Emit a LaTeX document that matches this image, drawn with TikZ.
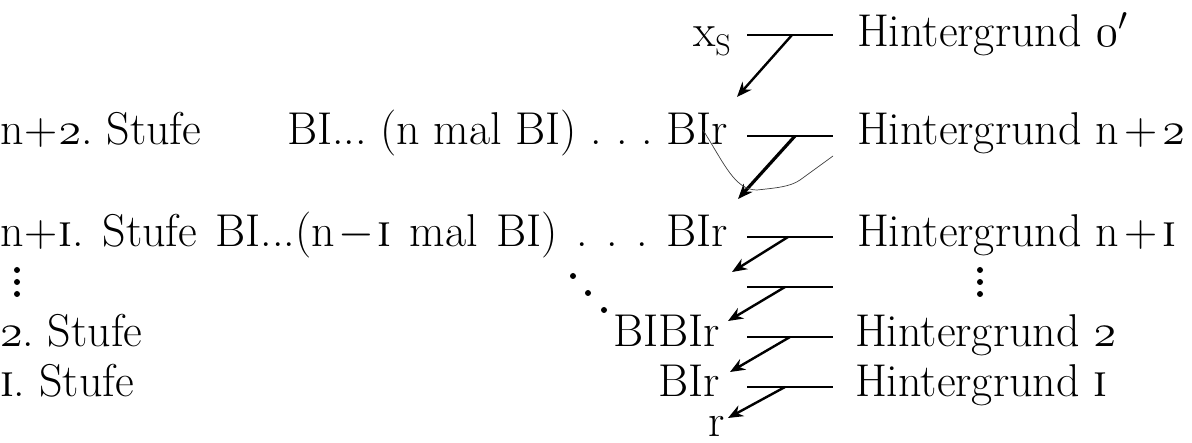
\RequirePackage{fix-cm}
\documentclass[tikz,border=0pt]{standalone}
\usetikzlibrary{arrows.meta}
\newcommand\bigfont{\fontsize{46}{54}\selectfont\frenchspacing}
\newcommand\osn[1]{\legacyoldstylenums{#1}}
\newcommand\one{\textsc{i}}
\newcommand\subS{\raisebox{-9pt}{\fontsize{30}{32}\selectfont S}}
\begin{document}
\begin{tikzpicture}[x=1pt,y=-1pt,
  txt/.style={inner sep=0pt, outer sep=0pt, font=\bigfont},
  rule/.style={line width=2.2pt},
  arr/.style={line width=2.4pt, -{Stealth[length=15pt,width=12pt]}},
  pen/.style={line width=0.7pt, black!75},
  dotc/.style={circle, fill=black, inner sep=0pt, minimum size=6pt}]
\useasboundingbox (0,0) rectangle (1192,443);
% row 0
\node[txt, anchor=base west] (xs) at (693,47) {x\subS};
\node[txt, anchor=base west] (h0) at (857,47) {Hintergrund \osn{0}$'$};
% row n+2
\node[txt, anchor=base west] (s2) at (0,145) {n\kern1pt+\kern1pt\osn{2}. Stufe};
\node[txt, anchor=base east] (b2) at (728,145) {\makebox[441pt][s]{BI... (n mal BI) . . . BIr}};
\node[txt, anchor=base west] (h2) at (857,145) {Hintergrund n\kern5pt+\kern5pt\osn{2}};
% row n+1
\node[txt, anchor=base west] (b1) at (0,247) {\makebox[728pt][s]{n\kern1pt+\kern1pt\one. Stufe BI...(n\kern3pt$-$\kern3pt\one{} mal BI) . . . BIr}};
\node[txt, anchor=base west] (h1) at (857,247) {Hintergrund n\kern5pt+\kern5pt\one};
% dots
\node[dotc] (lv1) at (17,270) {};
\node[dotc] (lv2) at (17,282) {};
\node[dotc] (lv3) at (17,294) {};
\node[dotc] (rv1) at (980,270) {};
\node[dotc] (rv2) at (980,282) {};
\node[dotc] (rv3) at (980,294) {};
\node[dotc] (dd1) at (573,276) {};
\node[dotc] (dd2) at (588,293) {};
\node[dotc] (dd3) at (604,310) {};
% rows 2 and 1
\node[txt, anchor=base west] (s3) at (0,347) {\osn{2}. Stufe};
\node[txt, anchor=base east] (b3) at (720,347) {BIBIr};
\node[txt, anchor=base west] (h3) at (855,347) {Hintergrund \osn{2}};
\node[txt, anchor=base west] (s4) at (0,397) {\one. Stufe};
\node[txt, anchor=base east] (b4) at (720,397) {BIr};
\node[txt, anchor=base west] (h4) at (855,397) {Hintergrund \one};
\node[txt, anchor=base] (r) at (717,437) {r};
% connector coordinates
\foreach \k/\y/\m/\tx/\ty in {0/35/792/737/97, 1/136/795/738/199, 2/237/788/732/272, 3/287/785/728/321, 4/337/790/730/372, 5/387/785/728/418}{
  \coordinate (a\k) at (747,\y);
  \coordinate (e\k) at (833,\y);
  \coordinate (m\k) at (\m,\y);
  \coordinate (t\k) at (\tx,\ty);
}
\foreach \k in {0,...,5}{
  \draw[rule] (a\k) -- (e\k);
}
\foreach \k in {0,2,3,4,5}{
  \draw[arr] (m\k) -- (t\k);
}
\draw[arr, line width=3.2pt] (m1) -- (t1);
% pencil mark
\coordinate (p0) at (703,130);
\coordinate (p1) at (833,156);
\draw[pen] (p0) .. controls (725,165) and (735,190) .. (757,190)
  .. controls (775,188) and (790,187) .. (800,180) -- (p1);
\end{tikzpicture}
\end{document}
